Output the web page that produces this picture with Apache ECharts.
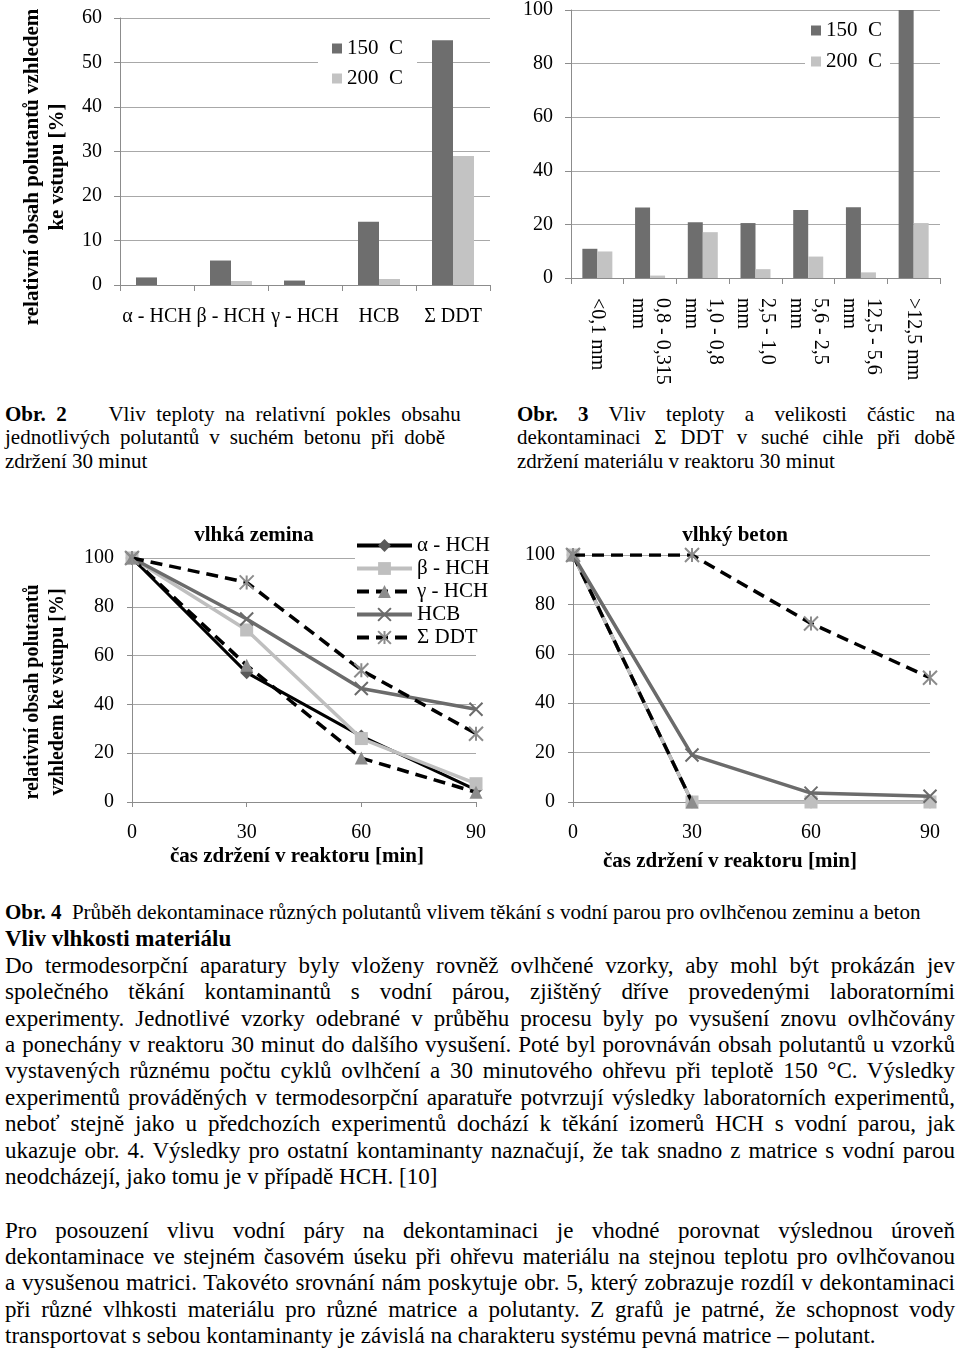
<!DOCTYPE html>
<html><head><meta charset="utf-8">
<script src="https://cdn.jsdelivr.net/npm/echarts/dist/echarts.min.js"></script>
<style>
html,body{margin:0;padding:0;background:#fff;}
body{width:960px;height:1351px;position:relative;overflow:hidden;font-family:"Liberation Serif","Times New Roman",serif;color:#000;}
.c{position:absolute;}
.ln{position:absolute;white-space:nowrap;}
</style></head><body>
<div id="c1" class="c" style="left:0;top:0;width:495px;height:345px"></div>
<div id="c2" class="c" style="left:500px;top:0;width:460px;height:400px"></div>
<div id="c3" class="c" style="left:0;top:500px;width:490px;height:380px"></div>
<div id="c4" class="c" style="left:490px;top:500px;width:470px;height:380px"></div>
<div id="txt"></div>
<script>
// ---------- DATA ----------
const cats1 = ['α - HCH', 'β - HCH', 'γ - HCH', 'HCB', 'Σ DDT'];
const concrete150 = [1.7, 5.5, 1.0, 14.2, 55];
const concrete200 = [0, 0.9, 0, 1.35, 29];

const cats2 = ['<0,1 mm', '0,8 - 0,315\nmm', '1,0 - 0,8\nmm', '2,5 - 1,0\nmm', '5,6 - 2,5\nmm', '12,5 - 5,6\nmm', '>12,5 mm'];
const brick150 = [10.9, 26.3, 20.8, 20.5, 25.4, 26.4, 100];
const brick200 = [9.9, 0.9, 17.1, 3.3, 8.0, 2.1, 20.5];

const times = [0, 30, 60, 90];
const seriesNames = ['α - HCH', 'β - HCH', 'γ - HCH', 'HCB', 'Σ DDT'];
const soilA = [100, 53, 27, 5];
const soilB = [100, 70.5, 26, 7.5];
const soilG = [100, 56, 18, 4];
const soilHCB = [100, 75, 46.5, 38];
const soilDDT = [100, 90, 54, 28];
const betonA = [100, 0, 0, 0];
const betonB = [100, 0, 0, 0];
const betonG = [100, 0, null, null];
const betonHCB = [100, 19, 3.6, 2.3];
const betonDDT = [100, 100, 72.3, 50.3];

const yTicks1 = {min: 0, max: 60, interval: 10};
const yTicks2 = {min: 0, max: 100, interval: 20};

// ---------- STYLE ----------
const FONT = '"Liberation Serif","Times New Roman",serif';
const DARK = '#6e6e6e', LIGHT = '#c3c3c3', GRID = '#a8a8a8', AX = '#8c8c8c';
const SYM_X = 'path://M0,0L10,10M10,0L0,10';
const SYM_STAR = 'path://M0,0L10,10M10,0L0,10M5,0L5,10';
const lineStyles = [
  {lc: '#000', w: 3, t: 'solid', sym: 'diamond', fill: '#5a5a5a', stroke: null, size: 13},
  {lc: '#bfbfbf', w: 3.5, t: 'solid', sym: 'rect', fill: '#bfbfbf', stroke: null, size: 13},
  {lc: '#000', w: 3.5, t: [12, 7], sym: 'triangle', fill: '#8c8c8c', stroke: null, size: 13},
  {lc: '#6b6b6b', w: 3.5, t: 'solid', sym: SYM_X, fill: '#6b6b6b', stroke: '#6b6b6b', size: 13},
  {lc: '#000', w: 3.5, t: [12, 7], sym: SYM_STAR, fill: '#8c8c8c', stroke: '#8c8c8c', size: 14}
];

function txt(x, y, s, size, bold, rot, lh) {
  return {type: 'text', x: x, y: y, rotation: rot || 0, silent: true,
    style: {text: s, fontSize: size, fontWeight: bold ? 'bold' : 'normal', fontFamily: FONT, fill: '#000',
      textAlign: 'center', textVerticalAlign: 'middle', align: 'center', verticalAlign: 'middle', lineHeight: lh || size}};
}

function barOption(cats, d150, d200, yt, grid, legendPos, barW, xLabelExtra) {
  return {
    animation: false,
    grid: grid,
    legend: Object.assign({orient: 'vertical', icon: 'rect', itemWidth: 10, itemHeight: 10, itemGap: 9,
      backgroundColor: '#fff', textStyle: {fontSize: 21, fontFamily: FONT, color: '#000'},
      data: ['150  C', '200  C']}, legendPos),
    xAxis: {type: 'category', data: cats,
      axisLine: {lineStyle: {color: AX, width: 1}},
      axisTick: {show: true, length: 6, alignWithLabel: false, interval: 0, lineStyle: {color: AX}},
      axisLabel: Object.assign({interval: 0, fontSize: 20, fontFamily: FONT, color: '#000', margin: 22}, xLabelExtra || {})},
    yAxis: {type: 'value', min: yt.min, max: yt.max, interval: yt.interval,
      axisLine: {show: true, lineStyle: {color: AX}},
      axisTick: {show: true, length: 6, lineStyle: {color: AX}},
      axisLabel: {fontSize: 20, fontFamily: FONT, color: '#000', margin: 18},
      splitLine: {lineStyle: {color: GRID, width: 1}}},
    series: [
      {name: '150  C', type: 'bar', data: d150, barWidth: barW, barGap: '0%', itemStyle: {color: DARK}},
      {name: '200  C', type: 'bar', data: d200, barWidth: barW, barGap: '0%', itemStyle: {color: LIGHT}}
    ]
  };
}

function lineOption(grid, sets, withLegend, graphics) {
  const series = sets.map((vals, i) => {
    const st = lineStyles[i];
    return {name: seriesNames[i], type: 'line', data: times.map((t, k) => [t, vals[k]]),
      symbol: st.sym, symbolSize: st.size, showAllSymbol: true, connectNulls: false,
      lineStyle: {color: st.lc, width: st.w, type: st.t},
      itemStyle: st.stroke ? {color: st.fill, borderColor: st.stroke, borderWidth: 2} : {color: st.fill, borderWidth: 0},
      z: 2 + i};
  });
  const opt = {
    animation: false,
    grid: grid,
    xAxis: {type: 'value', min: 0, max: 90, interval: 30,
      axisLine: {lineStyle: {color: AX}},
      axisTick: {show: true, length: 5, lineStyle: {color: AX}},
      axisLabel: {fontSize: 20, fontFamily: FONT, color: '#000', margin: 21},
      splitLine: {show: false}},
    yAxis: {type: 'value', min: yTicks2.min, max: yTicks2.max, interval: yTicks2.interval,
      axisLine: {show: true, lineStyle: {color: AX}},
      axisTick: {show: true, length: 5, lineStyle: {color: AX}},
      axisLabel: {fontSize: 20, fontFamily: FONT, color: '#000', margin: 18},
      splitLine: {lineStyle: {color: GRID, width: 1}}},
    graphic: graphics,
    series: series
  };
  if (withLegend) {
    opt.legend = Object.assign({orient: 'vertical', itemWidth: 55, itemHeight: 16, itemGap: 2, padding: 0,
      backgroundColor: '#fff', lineStyle: {width: 4},
      textStyle: {fontSize: 21, fontFamily: FONT, color: '#000', lineHeight: 21},
      data: seriesNames}, withLegend);
  }
  return opt;
}

const ch1 = echarts.init(document.getElementById('c1'));
const o1 = barOption(cats1, concrete150, concrete200, yTicks1,
  {left: 120, top: 18, width: 370, height: 267}, {left: 318, top: 33, padding: [5, 14, 5, 14]}, 21);
o1.graphic = [txt(45, 167, 'relativní obsah polutantů vzhledem\nke vstupu [%]', 21, true, Math.PI / 2, 25)];
ch1.setOption(o1);

const ch2 = echarts.init(document.getElementById('c2'));
ch2.setOption(barOption(cats2, brick150, brick200, yTicks2,
  {left: 71, top: 7, width: 369, height: 271}, {left: 305, top: 15, padding: [5, 8, 5, 6], itemGap: 10}, 15,
  {rotate: -90, lineHeight: 24, margin: 20}));

const ch3 = echarts.init(document.getElementById('c3'));
ch3.setOption(lineOption({left: 132, top: 58, width: 344, height: 244},
  [soilA, soilB, soilG, soilHCB, soilDDT], {left: 355, top: 35},
  [txt(254, 36, 'vlhká zemina', 21, true),
   txt(297, 357, 'čas zdržení v reaktoru [min]', 21, true),
   txt(45, 192, 'relativní obsah polutantů\nvzhledem ke vstupu [%]', 20, true, Math.PI / 2, 25)]));

const ch4 = echarts.init(document.getElementById('c4'));
ch4.setOption(lineOption({left: 83, top: 55, width: 357, height: 247},
  [betonA, betonB, betonG, betonHCB, betonDDT], null,
  [txt(245, 36, 'vlhký beton', 21, true),
   txt(240, 362, 'čas zdržení v reaktoru [min]', 21, true)]));

// ---------- TEXT ----------
// [html, centerY, left, width, fontSize, justify]
const lines = [
  ['<b>Obr. 2</b>&nbsp;&nbsp;&nbsp; Vliv teploty na relativní pokles obsahu', 415, 5, 440, 21, true],
  ['jednotlivých polutantů v suchém betonu při době', 438, 5, 440, 21, true],
  ['zdržení 30 minut', 462, 5, 440, 21, false],
  ['<b>Obr.</b> <b>3</b> Vliv teploty a velikosti částic na', 415, 517, 438, 21, true],
  ['dekontaminaci Σ DDT v suché cihle při době', 438, 517, 438, 21, true],
  ['zdržení materiálu v reaktoru 30 minut', 462, 517, 438, 21, false],
  ['<b>Obr. 4</b>&nbsp;&nbsp;Průběh dekontaminace různých polutantů vlivem těkání s vodní parou pro ovlhčenou zeminu a beton', 913, 5, 950, 21, false],
  ['<b>Vliv vlhkosti materiálu</b>', 940, 5, 950, 23, false],
  ['Do termodesorpční aparatury byly vloženy rovněž ovlhčené vzorky, aby mohl být prokázán jev', 967, 5, 950, 23, true],
  ['společného těkání kontaminantů s vodní párou, zjištěný dříve provedenými laboratorními', 993.4, 5, 950, 23, true],
  ['experimenty. Jednotlivé vzorky odebrané v průběhu procesu byly po vysušení znovu ovlhčovány', 1019.8, 5, 950, 23, true],
  ['a ponechány v reaktoru 30 minut do dalšího vysušení. Poté byl porovnáván obsah polutantů u vzorků', 1046.2, 5, 950, 23, true],
  ['vystavených různému počtu cyklů ovlhčení a 30 minutového ohřevu při teplotě 150 °C. Výsledky', 1072.6, 5, 950, 23, true],
  ['experimentů prováděných v termodesorpční aparatuře potvrzují výsledky laboratorních experimentů,', 1099, 5, 950, 23, true],
  ['neboť stejně jako u předchozích experimentů dochází k těkání izomerů HCH s vodní parou, jak', 1125.4, 5, 950, 23, true],
  ['ukazuje obr. 4. Výsledky pro ostatní kontaminanty naznačují, že tak snadno z matrice s vodní parou', 1151.8, 5, 950, 23, true],
  ['neodcházejí, jako tomu je v případě HCH. [10]', 1178.2, 5, 950, 23, false],
  ['Pro posouzení vlivu vodní páry na dekontaminaci je vhodné porovnat výslednou úroveň', 1232, 5, 950, 23, true],
  ['dekontaminace ve stejném časovém úseku při ohřevu materiálu na stejnou teplotu pro ovlhčovanou', 1258.3, 5, 950, 23, true],
  ['a vysušenou matrici. Takovéto srovnání nám poskytuje obr. 5, který zobrazuje rozdíl v dekontaminaci', 1284.6, 5, 950, 23, true],
  ['při různé vlhkosti materiálu pro různé matrice a polutanty. Z grafů je patrné, že schopnost vody', 1310.9, 5, 950, 23, true],
  ['transportovat s sebou kontaminanty je závislá na charakteru systému pevná matrice – polutant.', 1337.2, 5, 950, 23, false]
];
const host = document.getElementById('txt');
lines.forEach(l => {
  const d = document.createElement('div');
  d.className = 'ln';
  const h = l[4] * 1.15;
  d.style.cssText = 'left:' + l[2] + 'px;top:' + (l[1] - l[4] * 0.62) + 'px;font-size:' + l[4] + 'px;line-height:' + h + 'px;';
  const sp = document.createElement('span');
  sp.innerHTML = l[0];
  d.appendChild(sp);
  host.appendChild(d);
  if (l[5]) {
    const w = sp.getBoundingClientRect().width;
    const n = (sp.textContent.match(/ /g) || []).length;
    if (n) sp.style.wordSpacing = ((l[3] - w) / n) + 'px';
  }
});
</script>
</body></html>
